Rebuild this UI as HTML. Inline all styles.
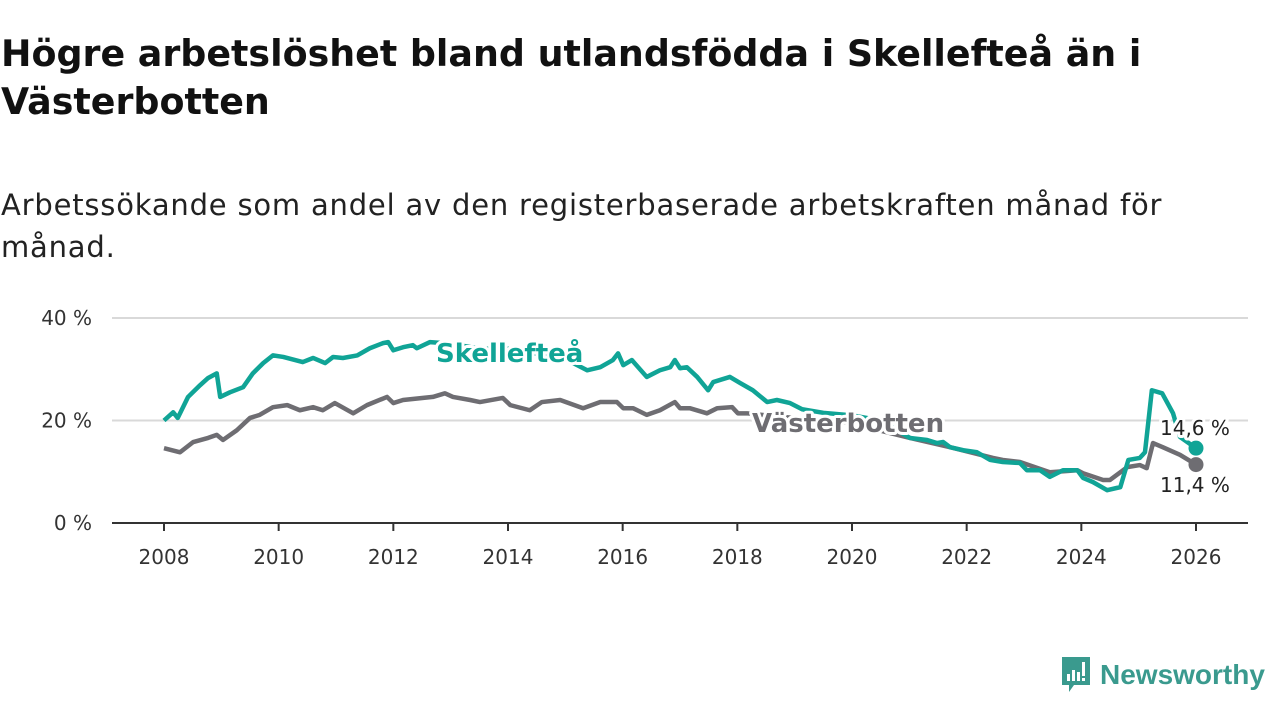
<!DOCTYPE html>
<html><head><meta charset="utf-8"><style>
body{margin:0;width:1280px;height:720px;background:#fff;font-family:"DejaVu Sans","Liberation Sans",sans-serif;overflow:hidden;position:relative}
h1{position:absolute;left:1px;top:30px;margin:0;font-size:36.4px;line-height:48px;font-weight:bold;color:#111;width:1270px;white-space:nowrap}
.sub{position:absolute;left:1px;top:184px;margin:0;font-size:29px;line-height:42px;letter-spacing:0.8px;color:#222;width:1270px;white-space:nowrap}
svg{position:absolute;left:0;top:0}
.logo{position:absolute;left:1060px;top:655px;display:flex;align-items:center}
.logo span{font-size:28px;color:#3a9a8e;font-weight:bold;margin-left:8px;font-family:"Liberation Sans",sans-serif}
</style></head><body>
<h1>Högre arbetslöshet bland utlandsfödda i Skellefteå än i<br>Västerbotten</h1>
<p class="sub">Arbetssökande som andel av den registerbaserade arbetskraften månad för<br>månad.</p>
<svg id="chart" width="1280" height="720"></svg>
<div class="logo">
<svg width="32" height="40" style="position:static"><path d="M2 2h28v28H14l-5 7v-7H2z" fill="#3a9a8e"/><rect x="7" y="19" width="3" height="7" fill="#fff"/><rect x="12" y="15" width="3" height="11" fill="#fff"/><rect x="17" y="17" width="3" height="9" fill="#fff"/><rect x="22" y="7" width="3" height="14" fill="#fff"/><rect x="22" y="23" width="3" height="3" fill="#fff"/></svg>
<span>Newsworthy</span></div>
<script>
const xTicks=[2008,2010,2012,2014,2016,2018,2020,2022,2024,2026];
const yTicks=[0,20,40];
const skeDates=[2008.0,2008.16,2008.24,2008.42,2008.63,2008.77,2008.92,2008.98,2009.15,2009.38,2009.55,2009.73,2009.9,2010.08,2010.42,2010.6,2010.81,2010.95,2011.12,2011.37,2011.59,2011.82,2011.91,2012.0,2012.17,2012.34,2012.41,2012.64,2013.0,2013.5,2014.0,2014.5,2015.0,2015.38,2015.61,2015.83,2015.92,2016.01,2016.16,2016.42,2016.65,2016.83,2016.91,2017.0,2017.12,2017.3,2017.49,2017.58,2017.87,2018.05,2018.27,2018.52,2018.69,2018.92,2019.13,2019.5,2020.0,2020.5,2021.01,2021.31,2021.48,2021.59,2021.71,2021.94,2022.18,2022.41,2022.63,2022.93,2023.05,2023.28,2023.45,2023.68,2023.93,2024.03,2024.2,2024.45,2024.68,2024.82,2025.02,2025.11,2025.23,2025.41,2025.6,2025.72,2026.0];
const skeValues=[20.0,21.6,20.5,24.6,26.9,28.3,29.2,24.6,25.5,26.5,29.2,31.2,32.7,32.4,31.4,32.2,31.2,32.4,32.2,32.7,34.1,35.1,35.3,33.7,34.3,34.7,34.1,35.3,35,34,34,33,32,29.8,30.4,31.8,33.1,30.8,31.8,28.5,29.8,30.4,31.8,30.2,30.4,28.5,25.9,27.5,28.5,27.3,25.9,23.6,24.0,23.4,22.2,21.5,21,20,16.6,16.2,15.6,15.8,14.8,14.2,13.8,12.3,11.9,11.7,10.3,10.3,9.0,10.3,10.3,8.8,8.0,6.4,7.0,12.3,12.7,13.8,25.9,25.3,21.4,16.8,14.6];
const vbDates=[2008.0,2008.28,2008.51,2008.77,2008.92,2009.03,2009.27,2009.5,2009.67,2009.9,2010.15,2010.37,2010.6,2010.77,2010.98,2011.3,2011.54,2011.89,2012.0,2012.17,2012.69,2012.9,2013.04,2013.34,2013.51,2013.91,2014.04,2014.38,2014.59,2014.91,2015.31,2015.61,2015.9,2016.01,2016.18,2016.42,2016.65,2016.91,2017.0,2017.17,2017.47,2017.65,2017.91,2018.01,2018.17,2018.5,2019.0,2019.5,2020.0,2020.5,2021.01,2021.71,2022.46,2022.63,2022.93,2023.45,2023.93,2024.03,2024.38,2024.5,2024.8,2025.02,2025.14,2025.25,2025.42,2025.72,2026.0];
const vbValues=[14.6,13.8,15.8,16.6,17.2,16.2,18.1,20.5,21.1,22.6,23.0,22.0,22.6,22.0,23.4,21.4,23.0,24.6,23.4,24.0,24.6,25.3,24.6,24.0,23.6,24.4,23.0,22.0,23.6,24.0,22.4,23.6,23.6,22.4,22.4,21.1,22.0,23.6,22.4,22.4,21.4,22.4,22.6,21.4,21.4,21,20.5,20,19.5,18,16.6,14.8,12.7,12.3,11.9,9.9,10.3,9.7,8.4,8.4,10.9,11.3,10.7,15.6,14.8,13.3,11.4];
const NS='http://www.w3.org/2000/svg';
const svg=document.getElementById('chart');
const X=y=>164+(y-2008)*(1196-164)/18;
const Y=v=>523-v*(523-318)/40;
function el(t,a){const e=document.createElementNS(NS,t);for(const k in a)e.setAttribute(k,a[k]);svg.appendChild(e);return e;}
yTicks.forEach(t=>{
 if(t>0){const g=el('line',{x1:112,x2:1248,y1:Y(t),y2:Y(t),stroke:'#d9d9d9','stroke-width':2});
 
 }
 const l=el('text',{x:92,y:Y(t)+7,'text-anchor':'end','font-size':20,fill:'#333'});l.textContent=t+' %';
 
 
});
const ax=el('line',{x1:112,x2:1248,y1:523,y2:523,stroke:'#333','stroke-width':2});


xTicks.forEach(t=>{
 const tk=el('line',{x1:X(t),x2:X(t),y1:523,y2:531,stroke:'#333','stroke-width':2});
 
 
 const l=el('text',{x:X(t),y:564,'text-anchor':'middle','font-size':20,fill:'#333'});l.textContent=t;
 
 
});
function series(d,v,c,name){
 const p=el('polyline',{points:d.map((x,i)=>X(x)+','+Y(v[i])).join(' '),fill:'none',stroke:c,'stroke-width':4.5,'stroke-linejoin':'round'});
 
 
 const n=d.length-1;
 const c2=el('circle',{cx:X(d[n]),cy:Y(v[n]),r:7.5,fill:c});
 
 
}
series(vbDates,vbValues,'#6e6d72','vasterbotten');
series(skeDates,skeValues,'#10a496','skelleftea');
function label(x,y,txt,c,name,size,bold){
 const t=el('text',{x:x,y:y,'font-size':size,'font-weight':bold?'bold':'normal',fill:c,stroke:'#fff','stroke-width':6,'paint-order':'stroke','stroke-linejoin':'round'});t.textContent=txt;
 
 
}
label(436,362,'Skellefteå','#10a496','skelleftea-label',26,true);
label(752,432,'Västerbotten','#6e6d72','vasterbotten-label',26,true);
label(1160,435,'14,6 %','#222','skelleftea-end-value',20,false);
label(1160,492,'11,4 %','#222','vasterbotten-end-value',20,false);
</script>
</body></html>
